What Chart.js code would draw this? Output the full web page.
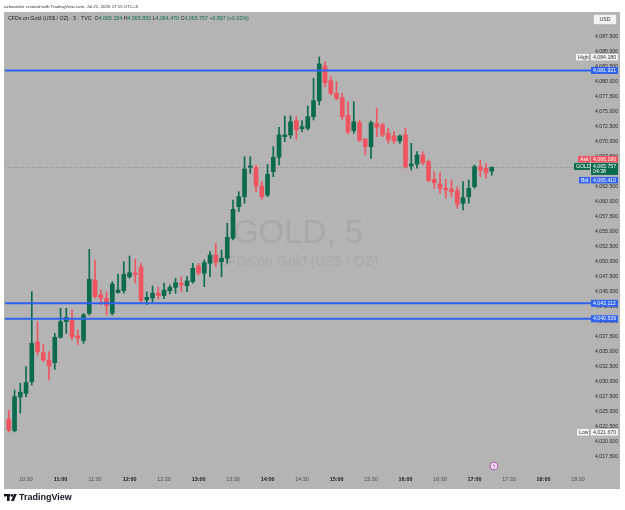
<!DOCTYPE html>
<html>
<head>
<meta charset="utf-8">
<script src="https://cdn.jsdelivr.net/npm/chart.js@4.4.1/dist/chart.umd.min.js"></script>
<style>
  html, body { margin: 0; padding: 0; background: #fff; }
  canvas { display: block; }
</style>
</head>
<body>
<canvas id="chart" width="625" height="510"></canvas>
<script>
// 5 minute candles, CFDs on Gold
const times = [
  '10:15','10:20','10:25','10:30','10:35','10:40','10:45','10:50','10:55',
  '11:00','11:05','11:10','11:15','11:20','11:25','11:30','11:35','11:40','11:45','11:50','11:55',
  '12:00','12:05','12:10','12:15','12:20','12:25','12:30','12:35','12:40','12:45','12:50','12:55',
  '13:00','13:05','13:10','13:15','13:20','13:25','13:30','13:35','13:40','13:45','13:50','13:55',
  '14:00','14:05','14:10','14:15','14:20','14:25','14:30','14:35','14:40','14:45','14:50','14:55',
  '15:00','15:05','15:10','15:15','15:20','15:25','15:30','15:35','15:40','15:45','15:50','15:55',
  '16:00','16:05','16:10','16:15','16:20','16:25','16:30','16:35','16:40','16:45','16:50','16:55',
  '17:00','17:05','17:10','17:15'
];
const opens = [
  4023.8, 4021.9, 4027.5, 4028.1, 4030.05, 4036.7, 4034.9, 4033.67, 4033.2,
  4037.45, 4040.05, 4040.33, 4037.67, 4036.9, 4041.45, 4047.0, 4044.5, 4043.95, 4041.45, 4044.9, 4045.22,
  4047.55, 4048.2, 4049.2, 4043.7, 4044.0, 4044.8, 4044.4, 4045.22, 4045.78, 4046.45, 4046.05, 4046.72,
  4049.33, 4048.12, 4049.78, 4051.17, 4050.05, 4050.62, 4053.95, 4059.22, 4060.88, 4065.78, 4065.78, 4062.67,
  4061.17, 4065.05, 4067.45, 4070.88, 4071.17, 4073.55, 4072.22, 4072.28, 4074.22, 4076.88, 4082.67, 4080.22,
  4078.12, 4077.38, 4074.45, 4071.88, 4073.22, 4070.45, 4069.22, 4073.12, 4072.83, 4071.45, 4071.0, 4070.17,
  4071.17, 4066.0, 4066.33, 4067.83, 4066.72, 4063.78, 4063.0, 4062.28, 4062.17, 4061.88, 4059.78, 4060.88,
  4062.55, 4065.88, 4065.62, 4065.154
];
const highs = [
  4025.3, 4028.67, 4029.8, 4032.55, 4045.05, 4040.05, 4036.2, 4035.05, 4038.1,
  4042.28, 4042.28, 4042.0, 4038.67, 4041.45, 4052.12, 4050.33, 4045.33, 4045.05, 4046.72, 4048.0, 4050.05,
  4051.0, 4050.5, 4049.8, 4045.0, 4046.0, 4045.8, 4046.5, 4046.17, 4047.28, 4047.55, 4047.55, 4049.78,
  4049.78, 4050.33, 4051.72, 4053.12, 4052.0, 4056.45, 4060.33, 4061.72, 4067.55, 4067.55, 4066.17, 4063.38,
  4066.28, 4069.22, 4072.45, 4074.33, 4074.33, 4074.22, 4073.55, 4076.0, 4080.62, 4084.18, 4083.38, 4080.88,
  4080.05, 4078.12, 4076.72, 4076.72, 4073.67, 4070.62, 4073.5, 4075.62, 4073.12, 4072.28, 4071.72, 4071.17,
  4072.28, 4069.78, 4068.38, 4068.38, 4067.0, 4065.05, 4064.88, 4063.78, 4063.67, 4062.55, 4063.38, 4063.67,
  4066.17, 4067.0, 4066.45, 4065.85
];
const lows = [
  4021.67, 4021.7, 4024.8, 4027.55, 4029.5, 4034.5, 4033.4, 4030.33, 4032.1,
  4037.28, 4038.1, 4037.0, 4036.2, 4036.45, 4041.17, 4043.95, 4042.83, 4041.17, 4041.17, 4044.8, 4044.8,
  4047.28, 4046.5, 4043.3, 4042.9, 4043.3, 4043.8, 4043.9, 4044.67, 4044.78, 4045.05, 4045.05, 4046.45,
  4047.83, 4045.88, 4047.55, 4049.22, 4047.55, 4049.78, 4053.67, 4058.38, 4059.78, 4064.78, 4061.72, 4060.45,
  4060.88, 4064.22, 4066.17, 4070.05, 4070.62, 4070.45, 4071.72, 4072.0, 4073.67, 4076.17, 4079.22, 4077.83,
  4077.0, 4073.67, 4071.33, 4071.45, 4070.05, 4067.83, 4067.28, 4070.88, 4070.88, 4069.78, 4069.78, 4069.78,
  4065.62, 4065.33, 4065.62, 4066.17, 4063.38, 4062.28, 4061.45, 4060.62, 4060.88, 4058.95, 4058.67, 4059.78,
  4062.28, 4064.22, 4063.95, 4064.47
];
const closes = [
  4022.0, 4027.55, 4028.3, 4029.9, 4036.45, 4035.05, 4033.67, 4032.67, 4037.45,
  4040.05, 4040.78, 4037.55, 4037.3, 4041.17, 4047.12, 4044.22, 4043.95, 4042.67, 4046.33, 4045.33, 4047.95,
  4048.2, 4047.9, 4043.6, 4044.1, 4044.8, 4044.4, 4045.3, 4045.78, 4046.55, 4046.17, 4046.83, 4048.95,
  4048.22, 4049.88, 4051.17, 4049.95, 4050.62, 4054.12, 4058.78, 4060.88, 4065.5, 4066.0, 4062.67, 4060.88,
  4064.62, 4067.45, 4071.17, 4071.17, 4073.38, 4072.0, 4072.55, 4074.22, 4076.88, 4083.0, 4079.88, 4078.12,
  4077.28, 4074.22, 4071.67, 4073.38, 4070.33, 4069.22, 4073.22, 4072.45, 4071.17, 4070.33, 4070.17, 4071.0,
  4065.88, 4066.33, 4067.83, 4066.55, 4063.55, 4063.22, 4062.28, 4062.0, 4061.72, 4059.62, 4060.72, 4062.28,
  4065.88, 4065.33, 4064.86, 4065.757
];

const timeTicks = ['10:30','11:00','11:30','12:00','12:30','13:00','13:30','14:00','14:30',
  '15:00','15:30','16:00','16:30','17:00','17:30','18:00','18:30'];
const priceTicks = [4017.5, 4020, 4022.5, 4025, 4027.5, 4030, 4032.5, 4035, 4037.5, 4040, 4042.5,
  4045, 4047.5, 4050, 4052.5, 4055, 4057.5, 4060, 4062.5, 4065, 4067.5, 4070, 4072.5, 4075,
  4077.5, 4080, 4082.5, 4085, 4087.5];

// horizontal lines drawn by the author
const levels = [4081.921, 4043.112, 4040.539];
const askPrice = 4066.190;
const bidPrice = 4065.410;
const sessionHigh = 4084.180;
const sessionLow = 4021.670;
const countdown = '04:38';

const FONT = '"Liberation Sans", Arial, sans-serif';
const GREEN = '#0c6b4e';
const RED = '#ef5461';
const BLUE = '#2e62ef';
const BG = '#b4b4b4';

const toMin = t => { const [h, m] = t.split(':').map(Number); return h * 60 + m; };
const fmtTime = v => String(Math.floor(v / 60)).padStart(2, '0') + ':' + String(v % 60).padStart(2, '0');
const fmtPrice = v => v.toLocaleString('en-US', { minimumFractionDigits: 3, maximumFractionDigits: 3 });

const xs = times.map(toMin);
const colors = xs.map((_, i) => closes[i] >= opens[i] ? GREEN : RED);
const wickData = xs.map((x, i) => ({ x, y: [lows[i], highs[i]] }));
const bodyData = xs.map((x, i) => ({ x, y: [opens[i], closes[i]] }));

const last = closes.length - 1;

const box = (ctx, x, y, w, h, fill, txt, color, stroke) => {
  ctx.fillStyle = fill;
  ctx.fillRect(x, y, w, h);
  if (stroke) { ctx.strokeStyle = stroke; ctx.lineWidth = 0.5; ctx.strokeRect(x + 0.25, y + 0.25, w - 0.5, h - 0.5); }
  if (txt) {
    ctx.fillStyle = color;
    ctx.textBaseline = 'middle';
    ctx.textAlign = 'left';
    ctx.fillText(txt, x + 2, y + h / 2 + 0.3);
  }
};

const tvPlugin = {
  id: 'tv',
  beforeDraw(chart) {
    const { ctx, chartArea: a } = chart;
    ctx.save();
    ctx.fillStyle = '#fff';
    ctx.fillRect(0, 0, chart.width, chart.height);
    ctx.fillStyle = BG;
    ctx.fillRect(4, 12, 616, 477);
    // watermark
    const cx = (a.left + a.right) / 2;
    ctx.fillStyle = 'rgba(0,0,0,0.065)';
    ctx.textAlign = 'center';
    ctx.textBaseline = 'middle';
    ctx.font = `33px ${FONT}`;
    ctx.fillText('GOLD, 5', cx, 234);
    ctx.font = `14px ${FONT}`;
    ctx.fillText('CFDs on Gold (US$ / OZ)', cx, 262);
    ctx.restore();
  },
  beforeDatasetsDraw(chart) {
    const { ctx, chartArea: a, scales: { y } } = chart;
    const py = Math.round(y.getPixelForValue(closes[last])) + 0.5;
    ctx.save();
    ctx.strokeStyle = '#8a8a8a';
    ctx.lineWidth = 1;
    ctx.setLineDash([1, 2]);
    ctx.beginPath();
    ctx.moveTo(a.left, py);
    ctx.lineTo(a.right, py);
    ctx.stroke();
    ctx.restore();
  },
  afterDatasetsDraw(chart) {
    const { ctx, chartArea: a, scales: { y } } = chart;
    ctx.save();
    ctx.strokeStyle = BLUE;
    ctx.lineWidth = 2;
    levels.forEach(v => {
      const py = y.getPixelForValue(v);
      ctx.beginPath();
      ctx.moveTo(a.left, py);
      ctx.lineTo(a.right, py);
      ctx.stroke();
    });
    ctx.restore();
  },
  afterDraw(chart) {
    const { ctx, chartArea: a, scales: { y } } = chart;
    const ax = a.right;
    const aw = 27;
    ctx.save();
    ctx.font = `5.2px ${FONT}`;

    // level labels on the price axis
    levels.forEach(v => {
      const py = y.getPixelForValue(v);
      box(ctx, ax, py - 3.5, aw, 7, BLUE, fmtPrice(v), '#fff');
    });

    // high / low
    const hy = y.getPixelForValue(sessionHigh);
    box(ctx, ax - 15, hy - 3, 13, 6.5, '#f4f4f4', 'High', '#333');
    box(ctx, ax, hy - 3, aw, 6.5, '#f4f4f4', fmtPrice(sessionHigh), '#333');
    const ly = y.getPixelForValue(sessionLow);
    box(ctx, ax - 14, ly - 3, 12, 6.5, '#f4f4f4', 'Low', '#333');
    box(ctx, ax, ly - 3, aw, 6.5, '#f4f4f4', fmtPrice(sessionLow), '#333');

    // ask / last / bid stacked around the last price
    const cy = y.getPixelForValue(closes[last]);
    const gTop = cy - 4.5;
    box(ctx, ax - 13, gTop - 7, 12, 6.5, RED, 'Ask', '#fff');
    box(ctx, ax, gTop - 7, aw, 6.5, RED, fmtPrice(askPrice), '#fff');
    box(ctx, ax - 17, gTop, 16, 7, GREEN, 'GOLD', '#fff');
    ctx.fillStyle = GREEN;
    ctx.fillRect(ax, gTop, aw, 12);
    ctx.fillStyle = '#fff';
    ctx.textBaseline = 'middle';
    ctx.fillText(fmtPrice(closes[last]), ax + 2, gTop + 3.3);
    ctx.fillText(countdown, ax + 2, gTop + 9);
    box(ctx, ax - 12, gTop + 14, 11, 6.5, BLUE, 'Bid', '#fff');
    box(ctx, ax, gTop + 14, aw, 6.5, BLUE, fmtPrice(bidPrice), '#fff');

    // currency button
    box(ctx, 593, 14, 24, 11, '#f2f2f2', '', '', '#8c8c8c');
    ctx.fillStyle = '#333';
    ctx.textAlign = 'center';
    ctx.fillText('USD', 605, 19.8);

    // legend
    ctx.textAlign = 'left';
    ctx.textBaseline = 'middle';
    ctx.font = `5.3px ${FONT}`;
    let x = 8;
    const part = (txt, color) => { ctx.fillStyle = color; ctx.fillText(txt, x, 19); x += ctx.measureText(txt).width; };
    const chg = closes[last] - closes[last - 1];
    part('CFDs on Gold (US$ / OZ) \u00b7 5 \u00b7 TVC  ', '#1e1e1e');
    part('O', '#1e1e1e'); part(fmtPrice(opens[last]) + ' ', GREEN);
    part('H', '#1e1e1e'); part(fmtPrice(highs[last]) + ' ', GREEN);
    part('L', '#1e1e1e'); part(fmtPrice(lows[last]) + ' ', GREEN);
    part('C', '#1e1e1e'); part(fmtPrice(closes[last]) + ' ', GREEN);
    part('+' + chg.toFixed(3) + ' (+' + (chg / closes[last - 1] * 100).toFixed(2) + '%)', GREEN);

    // attribution
    ctx.font = `4.4px ${FONT}`;
    ctx.fillStyle = '#333';
    ctx.fillText('azhantahir created with TradingView.com, Jul 21, 2026 17:15 UTC+8', 4, 6.5);

    // event marker
    ctx.beginPath();
    ctx.arc(494, 466, 3.8, 0, Math.PI * 2);
    ctx.fillStyle = '#f3e6f3';
    ctx.fill();
    ctx.strokeStyle = '#b458b4';
    ctx.lineWidth = 1;
    ctx.stroke();
    ctx.fillStyle = '#b458b4';
    ctx.font = `bold 5px ${FONT}`;
    ctx.textAlign = 'center';
    ctx.fillText('\u03df', 494, 466.3);

    // footer logo
    ctx.fillStyle = '#131722';
    ctx.fillRect(4, 494, 6, 2.4);
    ctx.fillRect(7, 494, 2.6, 7);
    ctx.beginPath();
    ctx.arc(11.8, 495.4, 1.3, 0, Math.PI * 2);
    ctx.fill();
    ctx.beginPath();
    ctx.moveTo(14, 494); ctx.lineTo(16.8, 494); ctx.lineTo(13.8, 501); ctx.lineTo(11, 501);
    ctx.closePath();
    ctx.fill();
    ctx.font = `600 9px ${FONT}`;
    ctx.textAlign = 'left';
    ctx.fillText('TradingView', 19, 497.8);
    ctx.restore();
  }
};

new Chart(document.getElementById('chart'), {
  type: 'bar',
  data: {
    datasets: [
      { data: wickData, backgroundColor: colors, barThickness: 1, grouped: false, minBarLength: 1 },
      { data: bodyData, backgroundColor: colors, barThickness: 4, grouped: false, minBarLength: 1 }
    ]
  },
  options: {
    responsive: false,
    animation: false,
    devicePixelRatio: 1,
    layout: { padding: { left: 5, top: 14, right: 5, bottom: 21 } },
    plugins: { legend: { display: false }, tooltip: { enabled: false } },
    scales: {
      x: {
        type: 'linear',
        offset: false,
        min: 611.7,
        max: 1121.3,
        grid: { display: false, offset: false },
        border: { display: false },
        afterBuildTicks: s => { s.ticks = timeTicks.map(t => ({ value: toMin(t) })); },
        afterFit: s => { s.height = 22; },
        ticks: {
          autoSkip: false,
          maxRotation: 0,
          minRotation: 0,
          padding: 1,
          callback: v => fmtTime(v),
          font: c => ({ family: FONT, size: 5.4, weight: c.tick && c.tick.value % 60 === 0 ? 'bold' : 'normal' }),
          color: c => c.tick && c.tick.value % 60 === 0 ? '#1a1a1a' : '#4d4d4d'
        }
      },
      y: {
        position: 'right',
        min: 4015.83,
        max: 4091.33,
        grid: { display: false, drawTicks: false },
        border: { display: false },
        afterBuildTicks: s => { s.ticks = priceTicks.map(v => ({ value: v })); },
        afterFit: s => { s.width = 29; },
        ticks: {
          padding: 4,
          callback: v => fmtPrice(v),
          font: { family: FONT, size: 5.2 },
          color: '#2b2b2b'
        }
      }
    }
  },
  plugins: [tvPlugin]
});
</script>
</body>
</html>
